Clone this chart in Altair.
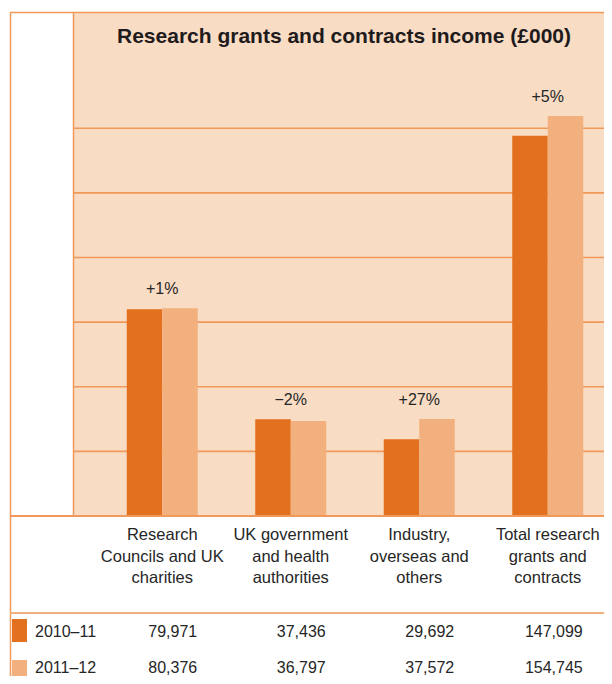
import altair as alt
import pandas as pd

# ---------------- data ----------------
categories = [
    "Research Councils and UK charities",
    "UK government and health authorities",
    "Industry, overseas and others",
    "Total research grants and contracts",
]
category_labels = [
    "Research\nCouncils and UK\ncharities",
    "UK government\nand health\nauthorities",
    "Industry,\noverseas and\nothers",
    "Total research\ngrants and\ncontracts",
]
years = ["2010–11", "2011–12"]
values_2010_11 = [79971, 37436, 29692, 147099]
values_2011_12 = [80376, 36797, 37572, 154745]
changes = ["+1%", "−2%", "+27%", "+5%"]
grid_values = [25000, 50000, 75000, 100000, 125000, 150000]
title_text = "Research grants and contracts income (£000)"

# ---------------- styles ----------------
FONT = "Liberation Sans, Arial, sans-serif"
DARK = "#E3701E"
LIGHT = "#F2B07E"
PEACH = "#F9DCC4"
LINE = "#F0995A"
TEXT = "#262626"
W, H = 596, 668

rows = []
for cat, v in zip(categories, values_2010_11):
    rows.append({"category": cat, "year": years[0], "value": v, "label": f"{v:,}"})
for cat, v in zip(categories, values_2011_12):
    rows.append({"category": cat, "year": years[1], "value": v, "label": f"{v:,}"})
bars_df = pd.DataFrame(rows)

groups_df = pd.DataFrame({
    "category": categories,
    "catlabel": category_labels,
    "change": changes,
    "top": [max(a, b) for a, b in zip(values_2010_11, values_2011_12)],
})
grid_df = pd.DataFrame({"g": grid_values})
one = pd.DataFrame({"t": [title_text]})
years_df = pd.DataFrame({"year": years})

xscale = alt.Scale(domain=categories, range=[90, 604], paddingInner=0, paddingOuter=0)
yscale = alt.Scale(domain=[0, 195000], range=[508, 4], nice=False, zero=True)
color_scale = alt.Scale(domain=years, range=[DARK, LIGHT])
row_scale = alt.Scale(domain=years, range=[623.5, 660], padding=0)

X = alt.X("category:N", scale=xscale, axis=None, sort=categories)

# background panel
panel = alt.Chart(one).mark_rect(color=PEACH).encode(
    x=alt.value(65), x2=alt.value(W), y=alt.value(4), y2=alt.value(508)
)

grid = alt.Chart(grid_df).mark_rule(color=LINE, strokeWidth=1.6).encode(
    y=alt.Y("g:Q", scale=yscale, axis=None),
    x=alt.value(65), x2=alt.value(W),
)

bars = alt.Chart(bars_df).mark_bar().encode(
    x=X,
    xOffset=alt.XOffset("year:N", sort=years,
                        scale=alt.Scale(domain=years, paddingInner=0, paddingOuter=0.81)),
    y=alt.Y("value:Q", scale=yscale, axis=None),
    color=alt.Color("year:N", scale=color_scale, legend=None),
)

# frame lines
left_border = alt.Chart(one).mark_rule(color=LINE, strokeWidth=1.5).encode(
    x=alt.value(2.5), y=alt.value(4), y2=alt.value(H))
top_border = alt.Chart(one).mark_rule(color=LINE, strokeWidth=1.5).encode(
    y=alt.value(4.5), x=alt.value(2), x2=alt.value(W))
divider = alt.Chart(one).mark_rule(color=LINE, strokeWidth=1.5).encode(
    x=alt.value(65.5), y=alt.value(4), y2=alt.value(508))
baseline = alt.Chart(one).mark_rule(color=LINE, strokeWidth=1.8).encode(
    y=alt.value(508), x=alt.value(2), x2=alt.value(W))
sep = alt.Chart(one).mark_rule(color=LIGHT, strokeWidth=2).encode(
    y=alt.value(605), x=alt.value(2), x2=alt.value(W))

title = alt.Chart(one).mark_text(
    font=FONT, fontSize=21, fontWeight="bold", color="#1f1b1c",
    align="center", baseline="alphabetic"
).encode(text="t:N", x=alt.value(336), y=alt.value(35))

pct = alt.Chart(groups_df).mark_text(
    font=FONT, fontSize=16, color=TEXT, align="center", baseline="middle", dy=-19
).encode(x=X, y=alt.Y("top:Q", scale=yscale, axis=None), text="change:N")

cat_text = alt.Chart(groups_df).mark_text(
    font=FONT, fontSize=16.5, color=TEXT, align="center", baseline="alphabetic",
    lineBreak="\n", lineHeight=21.5
).encode(x=X, y=alt.value(532), text="catlabel:N")

num_text = alt.Chart(bars_df).mark_text(
    font=FONT, fontSize=16, color=TEXT, align="right", baseline="middle", dx=35
).encode(
    x=X,
    y=alt.Y("year:N", scale=row_scale, axis=None),
    text="label:N",
)

row_text = alt.Chart(years_df).mark_text(
    font=FONT, fontSize=16, color=TEXT, align="left", baseline="middle"
).encode(
    x=alt.value(27),
    y=alt.Y("year:N", scale=row_scale, axis=None),
    text="year:N",
)

swatch = alt.Chart(years_df).mark_rect().encode(
    x=alt.value(4), x2=alt.value(19),
    y=alt.Y("year:N", scale=alt.Scale(domain=years, range=[611, 675],
                                      paddingInner=0.44, paddingOuter=0), axis=None),
    color=alt.Color("year:N", scale=color_scale, legend=None),
)

chart = alt.layer(
    panel, grid, bars, left_border, top_border, divider, baseline, sep,
    title, pct, cat_text, num_text, row_text, swatch
).resolve_scale(y="independent").properties(
    width=W, height=H, padding=0, autosize=alt.AutoSizeParams(type="none")
).configure_view(stroke=None)

chart.save("out.html", embed_options={"renderer": "svg", "actions": False})
